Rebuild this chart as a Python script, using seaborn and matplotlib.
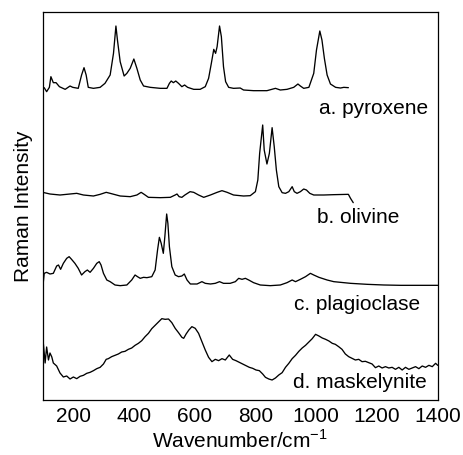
import numpy as np
import pandas as pd
import matplotlib
matplotlib.use("Agg")
import matplotlib.pyplot as plt
import seaborn as sns

# Raman spectra (wavenumber in cm^-1, intensity in arbitrary units above each baseline)
pyroxene_wn = [105, 113, 122, 127, 135, 144, 155, 174, 190, 199, 217, 228, 236, 243, 250,
               267, 289, 305, 322, 333, 341, 346, 355, 368, 377, 388, 400, 410, 421, 432,
               454, 487, 509, 517, 523, 530, 538, 547, 558, 567, 577, 597, 618, 635, 646,
               655, 663, 669, 674, 682, 688, 695, 702, 712, 728, 750, 761, 794, 838, 866,
               882, 904, 926, 940, 948, 959, 976, 992, 1001, 1012, 1019, 1027, 1036, 1047,
               1064, 1080, 1091, 1106]
pyroxene_int = [7, -5, 8, 40, 22, 22, 10, 2, 12, 8, 5, 45, 67, 45, 8,
                5, 8, 20, 45, 110, 192, 150, 85, 42, 50, 65, 93, 65, 30, 12,
                8, 5, 5, 20, 27, 22, 27, 20, 10, 15, 8, 2, 2, 10, 35,
                80, 122, 110, 130, 192, 160, 70, 25, 8, 5, 6, 0, -2, -2, 5,
                0, 2, 8, 18, 12, 5, 8, 50, 120, 177, 150, 95, 45, 18,
                8, 6, 8, 7]

olivine_wn = [105, 124, 157, 179, 212, 234, 267, 289, 309, 322, 355, 388, 410, 424, 434,
              448, 487, 520, 536, 542, 549, 558, 568, 585, 597, 613, 630, 652, 674, 690,
              707, 728, 761, 783, 800, 808, 814, 824, 829, 838, 846, 855, 862, 869, 877,
              888, 899, 910, 921, 928, 937, 948, 959, 968, 979, 992, 1025, 1058, 1106,
              1113, 1122]
olivine_int = [5, 1, -2, 0, 3, -2, -5, 0, 6, 3, -5, -7, -2, 6, 0,
               -9, -10, -9, -2, 1, -7, -9, -2, 8, 6, -2, -9, -2, 6, 11,
               6, -2, -5, -4, 8, 43, 123, 208, 133, 91, 123, 200, 143, 73, 23,
               5, 3, 8, 23, 8, 3, 8, 16, 13, 3, -2, -2, -1, 0,
               -12, -25]

plagioclase_wn = [101, 105, 113, 124, 135, 146, 152, 159, 168, 179, 187, 195, 206, 217, 228,
                  239, 247, 256, 267, 278, 286, 292, 300, 311, 322, 338, 355, 377, 393, 404,
                  412, 421, 432, 443, 459, 470, 478, 484, 490, 497, 502, 508, 512, 517, 525,
                  536, 547, 558, 566, 575, 586, 608, 624, 635, 652, 668, 682, 695, 717, 734,
                  745, 756, 767, 778, 794, 816, 849, 882, 904, 921, 932, 948, 965, 981, 992,
                  1009, 1036, 1058, 1113, 1168, 1223, 1278, 1333, 1400]
plagioclase_int = [0, 36, 39, 34, 36, 58, 61, 48, 66, 81, 86, 78, 66, 51, 31,
                   41, 46, 39, 51, 66, 71, 61, 36, 16, 11, 1, -1, 1, 16, 31,
                   26, 21, 24, 23, 26, 46, 106, 144, 126, 96, 146, 214, 186, 116, 56,
                   31, 26, 28, 34, 16, 4, 4, 11, 6, 4, 6, 11, 6, 6, 11,
                   21, 18, 21, 16, 8, 1, -1, 1, 8, 16, 11, 18, 26, 36, 31,
                   24, 16, 11, 6, 3, 1, 0, 0, 0]

maskelynite_wn = [102, 108, 113, 119, 124, 130, 135, 146, 157, 168, 179, 190, 201, 212, 223,
                  234, 245, 256, 267, 278, 289, 300, 309, 316, 327, 338, 349, 360, 371, 382,
                  393, 404, 415, 426, 437, 448, 459, 470, 481, 492, 503, 514, 525, 536, 547,
                  558, 564, 572, 581, 591, 602, 613, 624, 635, 646, 657, 668, 679, 690, 701,
                  714, 725, 736, 747, 758, 769, 780, 791, 802, 813, 824, 833, 844, 855, 866,
                  877, 888, 899, 910, 921, 932, 943, 954, 965, 976, 987, 998, 1009, 1020, 1031,
                  1042, 1053, 1063, 1074, 1085, 1096, 1107, 1118, 1129, 1140, 1151, 1162, 1173,
                  1184, 1195, 1206, 1217, 1228, 1239, 1250, 1261, 1272, 1283, 1294, 1305, 1316,
                  1327, 1338, 1349, 1360, 1371, 1382, 1393, 1400]
maskelynite_int = [111, 51, 99, 60, 81, 69, 51, 42, 21, 9, 12, 3, 9, 4, 11,
                   14, 20, 23, 28, 34, 38, 48, 62, 64, 70, 74, 78, 84, 86, 92,
                   96, 104, 110, 118, 130, 140, 154, 164, 174, 184, 182, 183, 172, 155, 142,
                   128, 125, 138, 150, 160, 155, 140, 115, 90, 68, 55, 62, 58, 64, 60,
                   75, 62, 58, 53, 48, 43, 38, 35, 30, 28, 18, 8, 3, 0, 6,
                   15, 22, 38, 50, 64, 74, 86, 96, 104, 114, 124, 137, 132, 126, 122,
                   117, 110, 107, 100, 92, 78, 70, 65, 60, 62, 55, 56, 52,
                   48, 37, 42, 36, 40, 36, 38, 32, 38, 30, 38, 32, 36,
                   40, 34, 42, 38, 44, 40, 50, 44]

labels = ["a. pyroxene", "b. olivine", "c. plagioclase", "d. maskelynite"]
series = [(pyroxene_wn, pyroxene_int), (olivine_wn, olivine_int),
          (plagioclase_wn, plagioclase_int), (maskelynite_wn, maskelynite_int)]
baselines = [930, 617, 344, 60]
label_pos = [(1367, 876), (1275, 549), (1341, 285), (1364, 51)]
xticks = [200, 400, 600, 800, 1000, 1200, 1400]

sns.set_theme(style="white")
plt.rcParams["font.family"] = ["Liberation Sans", "DejaVu Sans"]
plt.rcParams["mathtext.fontset"] = "custom"
plt.rcParams["mathtext.rm"] = "Liberation Sans"

fig = plt.figure(figsize=(4.63, 4.55), dpi=100)
ax = fig.add_axes([0.0922, 0.1209, 0.8532, 0.8527])

for (wn, inten), base, name in zip(series, baselines, labels):
    df = pd.DataFrame({"Wavenumber": wn,
                       "Intensity": np.asarray(inten, dtype=float) + base})
    sns.lineplot(data=df, x="Wavenumber", y="Intensity", ax=ax, color="black",
                 linewidth=0.95, sort=False, estimator=None)

for name, (lx, ly) in zip(labels, label_pos):
    ax.text(lx, ly, name, ha="right", va="center", fontsize=15, color="black")

ax.set_xlim(100, 1400)
ax.set_ylim(0, 1164)
ax.set_xticks(xticks)
ax.set_xticklabels([str(t) for t in xticks])
ax.set_yticks([])
ax.tick_params(axis="x", length=0, pad=5, labelsize=15, colors="black")
ax.set_xlabel("Wavenumber/cm$^{\\mathrm{-1}}$", fontsize=15, labelpad=2, color="black")
ax.set_ylabel("Raman Intensity", fontsize=15, labelpad=7, color="black")
for sp in ax.spines.values():
    sp.set_color("black")
    sp.set_linewidth(0.9)

fig.savefig("out.png", dpi=100)
